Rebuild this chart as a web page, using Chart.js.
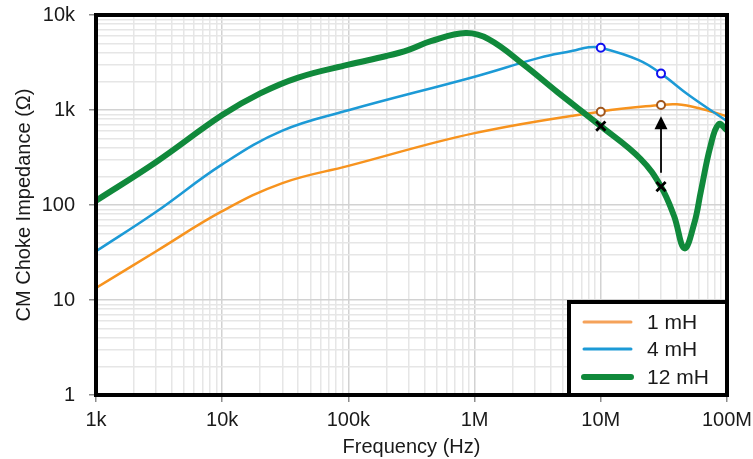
<!DOCTYPE html>
<html>
<head>
<meta charset="utf-8">
<script src="https://cdn.jsdelivr.net/npm/chart.js@4.4.1/dist/chart.umd.min.js"></script>
<style>
  html, body { margin: 0; padding: 0; background: #fff; }
</style>
</head>
<body>
<canvas id="myChart" width="753" height="459"></canvas>
<script>
/* 데이터 */
const freq1mH = [1e3, 3e3, 1e4, 3e4, 1e5, 1e6, 1e7, 3e7, 4e7, 6e7, 1e8];
const imp1mH  = [13.4, 32.6, 86, 170, 258, 571, 965, 1130, 1148, 1045, 860];

const freq4mH = [1e3, 3e3, 1e4, 3e4, 1e5, 1e6, 3.3e6, 6e6, 8e6, 1e7, 2e7, 3e7, 5e7, 1e8];
const imp4mH  = [32.6, 85, 268, 607, 993, 2240, 3556, 4200, 4580, 4520, 3350, 2415, 1430, 762];

const freq12mH = [1e3, 3e3, 1e4, 2e4, 4e4, 1e5, 2e5, 3e5, 4.5e5, 8.5e5, 1.3e6, 2.45e6, 4.56e6, 1e7, 2.07e7, 3e7, 3.8e7, 4.6e7, 5.5e7, 6.2e7, 7.4e7, 8.6e7, 1e8];
const imp12mH  = [111, 284, 885, 1497, 2197, 3000, 3700, 4300, 5300, 6450, 5550, 3000, 1531, 676, 305, 156, 77, 35, 64, 138, 418, 710, 610];

// 표시 점 (10 MHz, 30 MHz)
const markFreq = [1e7, 3e7];
const mark4mH  = [4520, 2415];
const mark1mH  = [960, 1130];
const mark12mH = [676, 156];

// 화살표 (30 MHz)
const arrowFreq = 3e7;
const arrowFrom = 218;
const arrowTo   = 860;

// 눈금 라벨
const xTicks = [1e3, 1e4, 1e5, 1e6, 1e7, 1e8];
const xTickLabels = ['1k', '10k', '100k', '1M', '10M', '100M'];
const yTicks = [1, 10, 100, 1e3, 1e4];
const yTickLabels = ['1', '10', '100', '1k', '10k'];

const legendNames = ['1 mH', '4 mH', '12 mH'];

const ORANGE = '#F7931E';
const BLUE = '#1C9AD6';
const GREEN = '#10893B';

function pts(xs, ys) {
	return xs.map((x, i) => ({ x: x, y: ys[i] }));
}

function isDecade(v) {
	const l = Math.log10(v);
	return Math.abs(l - Math.round(l)) < 1e-6;
}

function findLabel(v, ticks, labels) {
	for (let i = 0; i < ticks.length; i++) {
		if (Math.abs(v / ticks[i] - 1) < 1e-6) return labels[i];
	}
	return '';
}

// 로그 눈금: 각 decade 마다 1..9
function logTicks(scale) {
	const out = [];
	const lo = Math.round(Math.log10(scale.min));
	const hi = Math.round(Math.log10(scale.max));
	for (let e = lo; e < hi; e++) {
		for (let m = 1; m < 10; m++) out.push({ value: m * Math.pow(10, e) });
	}
	out.push({ value: Math.pow(10, hi) });
	scale.ticks = out;
}

const gridOpts = {
	color: ctx => isDecade(ctx.tick.value) ? '#d2d2d2' : '#e6e6e6',
	lineWidth: 1.5,
	tickLength: 7,
	tickColor: ctx => isDecade(ctx.tick.value) ? '#8c8c8c' : 'rgba(0,0,0,0)',
	tickWidth: 1.5
};

/* 테두리, 화살표, 범례 */
const extras = {
	id: 'extras',
	afterDatasetsDraw(chart) {
		const c = chart.ctx;
		const a = chart.chartArea;
		const xs = chart.scales.x, ys = chart.scales.y;

		// 화살표
		const ax = xs.getPixelForValue(arrowFreq);
		const y0 = ys.getPixelForValue(arrowFrom);
		const y1 = ys.getPixelForValue(arrowTo);
		c.save();
		c.strokeStyle = '#000';
		c.fillStyle = '#000';
		c.lineWidth = 1.8;
		c.beginPath();
		c.moveTo(ax, y0);
		c.lineTo(ax, y1 + 10);
		c.stroke();
		c.beginPath();
		c.moveTo(ax, y1);
		c.lineTo(ax - 6.5, y1 + 13);
		c.lineTo(ax + 6.5, y1 + 13);
		c.closePath();
		c.fill();

		// 플롯 테두리
		c.lineWidth = 4;
		c.strokeStyle = '#000';
		c.strokeRect(a.left, a.top, a.right - a.left, a.bottom - a.top);

		// 범례
		const lw = 158, lh = 93;
		const lx = a.right - lw, ly = a.bottom - lh;
		c.fillStyle = '#fff';
		c.fillRect(lx, ly, lw, lh);
		c.strokeRect(lx, ly, lw, lh);

		const colors = ['#F5A25A', BLUE, GREEN];
		const widths = [3, 3, 6];
		const rows = [20, 47, 75];
		c.font = '21px "Liberation Sans", Arial, sans-serif';
		c.textBaseline = 'middle';
		c.textAlign = 'left';
		c.lineCap = 'round';
		for (let i = 0; i < 3; i++) {
			const yy = ly + rows[i];
			c.strokeStyle = colors[i];
			c.lineWidth = widths[i];
			c.beginPath();
			c.moveTo(lx + 15, yy);
			c.lineTo(lx + 62, yy);
			c.stroke();
			c.fillStyle = '#1a1a1a';
			c.fillText(legendNames[i], lx + 78, yy + 1);
		}
		c.restore();
	}
};

Chart.defaults.font.family = '"Liberation Sans", Arial, sans-serif';
Chart.defaults.font.size = 20;
Chart.defaults.color = '#1a1a1a';

const ctx = document.getElementById('myChart');

const config = {
	type: 'scatter',
	data: {
		datasets: [
			{
				label: 'x marks',
				data: pts(markFreq, mark12mH),
				showLine: false,
				pointStyle: 'crossRot',
				pointRadius: 6.5,
				borderColor: '#000',
				borderWidth: 2.8,
				order: 0
			},
			{
				label: '4 mH marks',
				data: pts(markFreq, mark4mH),
				showLine: false,
				pointStyle: 'circle',
				pointRadius: 4,
				borderColor: '#1010F0',
				backgroundColor: '#ffffff',
				borderWidth: 2,
				order: 0
			},
			{
				label: '1 mH marks',
				data: pts(markFreq, mark1mH),
				showLine: false,
				pointStyle: 'circle',
				pointRadius: 4,
				borderColor: '#A0561C',
				backgroundColor: '#ffffff',
				borderWidth: 2,
				order: 0
			},
			{
				label: '12 mH',
				data: pts(freq12mH, imp12mH),
				showLine: true,
				borderColor: GREEN,
				borderWidth: 6,
				pointRadius: 0,
				tension: 0.4,
				order: 1
			},
			{
				label: '4 mH',
				data: pts(freq4mH, imp4mH),
				showLine: true,
				borderColor: BLUE,
				borderWidth: 2.5,
				pointRadius: 0,
				tension: 0.4,
				order: 2
			},
			{
				label: '1 mH',
				data: pts(freq1mH, imp1mH),
				showLine: true,
				borderColor: ORANGE,
				borderWidth: 2.5,
				pointRadius: 0,
				tension: 0.4,
				order: 3
			}
		]
	},
	options: {
		responsive: false,
		animation: false,
		layout: { padding: { top: 15, right: 26, left: 0, bottom: 0 } },
		plugins: {
			legend: { display: false },
			tooltip: { enabled: false }
		},
		scales: {
			x: {
				type: 'logarithmic',
				min: 1e3,
				max: 1e8,
				afterBuildTicks: logTicks,
				afterFit: s => { s.height = 64; s.paddingLeft = 0; s.paddingRight = 0; },
				border: { display: false },
				grid: gridOpts,
				ticks: {
					autoSkip: false,
					maxRotation: 0,
					padding: 6,
					callback: v => findLabel(v, xTicks, xTickLabels)
				},
				title: {
					display: true,
					text: 'Frequency (Hz)',
					padding: { top: 0, bottom: 0 }
				}
			},
			y: {
				type: 'logarithmic',
				min: 1,
				max: 1e4,
				afterBuildTicks: logTicks,
				afterFit: s => { s.width = 96; s.paddingTop = 0; s.paddingBottom = 0; },
				border: { display: false },
				grid: gridOpts,
				ticks: {
					autoSkip: false,
					padding: 14,
					callback: v => findLabel(v, yTicks, yTickLabels)
				},
				title: {
					display: true,
					text: 'CM Choke Impedance (Ω)',
					padding: { top: 12, bottom: 0 }
				}
			}
		}
	},
	plugins: [extras]
};

// chart 생성
const myChart = new Chart(ctx, config);
</script>
</body>
</html>
